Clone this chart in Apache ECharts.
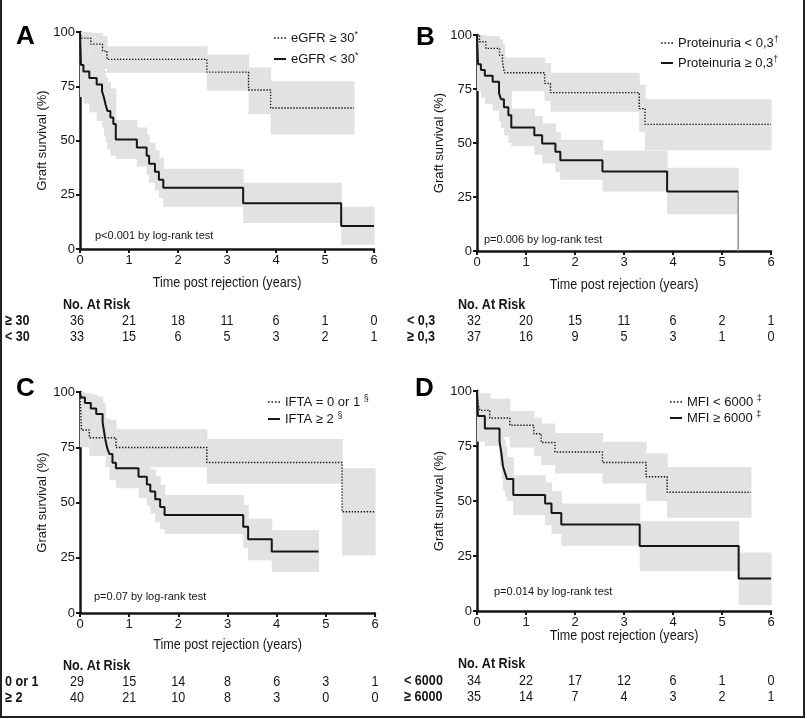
<!DOCTYPE html>
<html><head><meta charset="utf-8">
<script src="https://cdn.jsdelivr.net/npm/echarts@6/dist/echarts.min.js"></script>
<style>html,body{margin:0;padding:0;background:#fff}#c{width:807px;height:719px}</style>
</head><body><div id="c"></div>
<script>
// ---------- shared ----------
const xTicks = [0, 1, 2, 3, 4, 5, 6];
const yTicks = [0, 25, 50, 75, 100];

// ---------- Panel A : eGFR ----------
const A_dot_t = [0, 0.03, 0.22, 0.46, 0.55, 2.59, 3.44, 3.89];
const A_dot_s = [100, 97.2, 94.4, 91.2, 87.4, 81.5, 73.3, 65.0];
const A_dot_end = 5.59;
const A_dotB_t = [0, 0.22, 0.46, 0.55, 2.59, 3.44, 3.89];
const A_dotB_lo = [91, 86, 83, 81.2, 72.9, 62.2, 52.8];
const A_dotB_hi = [100, 99.5, 98, 93.4, 89.6, 83.6, 77.3];
const A_sol_t = [0, 0.02, 0.07, 0.19, 0.34, 0.45, 0.49, 0.52, 0.56, 0.62, 0.68, 0.73, 1.16, 1.36, 1.41, 1.53, 1.61, 1.70, 3.33, 5.33];
const A_sol_s = [100, 84.8, 81.8, 78.8, 75.8, 72.7, 69.7, 66.7, 63.6, 60.6, 57.6, 50.5, 46.8, 43.0, 39.3, 35.6, 31.9, 28.2, 21.1, 10.6];
const A_sol_end = 6.0;
const A_solB_t = [0, 0.07, 0.19, 0.34, 0.45, 0.49, 0.52, 0.56, 0.62, 0.73, 1.16, 1.36, 1.41, 1.53, 1.61, 1.70, 3.33, 5.33];
const A_solB_lo = [70, 67, 63, 59, 56, 52, 49, 46, 43, 41.5, 38, 34, 30.5, 27, 23.5, 19.5, 12, 2];
const A_solB_hi = [95, 92, 90, 88, 85, 82, 79, 77, 74, 59.5, 56, 52.5, 49, 45.5, 42, 37, 30.5, 19.5];
const A_risk1 = [36, 21, 18, 11, 6, 1, 0];
const A_risk2 = [33, 15, 6, 5, 3, 2, 1];

// ---------- Panel B : Proteinuria ----------
const B_dot_t = [0, 0.05, 0.18, 0.46, 0.52, 0.56, 1.38, 1.50, 3.31, 3.43];
const B_dot_s = [100, 96.9, 93.8, 90.6, 87.5, 82.5, 77.6, 73.3, 65.9, 58.6];
const B_dot_end = 6.0;
const B_dotB_t = [0, 0.18, 0.46, 0.52, 0.56, 1.38, 1.50, 3.31, 3.43];
const B_dotB_lo = [88, 85, 80, 77, 74, 69.5, 64.5, 55, 46.7];
const B_dotB_hi = [100, 99.5, 98, 96, 89.6, 87, 82.5, 77, 70.3];
const B_sol_t = [0, 0.02, 0.08, 0.16, 0.32, 0.45, 0.49, 0.55, 0.64, 0.70, 1.17, 1.33, 1.60, 1.70, 2.56, 3.88];
const B_sol_s = [100, 86.5, 83.8, 81.1, 78.4, 73.0, 70.3, 66.5, 62.9, 57.2, 53.6, 49.8, 46.0, 42.0, 36.8, 27.6];
const B_sol_end = 5.33;
const B_solB_t = [0, 0.08, 0.16, 0.32, 0.45, 0.49, 0.55, 0.64, 0.70, 1.17, 1.33, 1.60, 1.70, 2.56, 3.88];
const B_solB_lo = [74, 71, 68, 65, 60, 57, 53.5, 50, 48.5, 44.5, 40.5, 36.5, 33, 27.5, 17];
const B_solB_hi = [96, 93, 91, 89, 85, 82, 79, 76, 66, 62.5, 59, 55, 51.5, 46.5, 38.5];
const B_drop_t = [5.33, 5.33];
const B_drop_s = [27.6, 0];
const B_risk1 = [32, 20, 15, 11, 6, 2, 1];
const B_risk2 = [37, 16, 9, 5, 3, 1, 0];

// ---------- Panel C : IFTA ----------
const C_dot_t = [0, 0.03, 0.19, 0.73, 2.58, 5.33];
const C_dot_s = [100, 82.8, 79.3, 74.9, 68.1, 45.8];
const C_dot_end = 6.0;
const C_dotB_t = [0, 0.19, 0.73, 2.58, 5.33];
const C_dotB_lo = [75, 71, 66, 58.5, 26];
const C_dotB_hi = [95, 87.5, 83.2, 78.7, 65.5];
const C_sol_t = [0, 0.02, 0.10, 0.22, 0.33, 0.46, 0.49, 0.52, 0.56, 0.60, 0.66, 0.73, 1.19, 1.36, 1.43, 1.53, 1.63, 1.72, 3.32, 3.42, 3.90];
const C_sol_s = [100, 97.5, 95, 92.5, 90, 86.2, 82, 77.9, 74.1, 71.9, 68, 65.5, 61.7, 58.1, 55, 51.5, 48, 44.4, 39, 33.4, 27.8];
const C_sol_end = 4.85;
const C_solB_t = [0, 0.10, 0.22, 0.33, 0.46, 0.52, 0.60, 0.73, 1.19, 1.36, 1.43, 1.53, 1.63, 1.72, 3.32, 3.42, 3.90];
const C_solB_lo = [93, 88, 85, 81, 74, 66, 60, 56.4, 52, 48.5, 45, 41, 38, 35.7, 29.5, 23.9, 18.6];
const C_solB_hi = [100, 99.5, 99, 98, 95, 88, 85, 77.2, 72, 68.5, 65, 62, 58, 53.4, 49, 42.8, 37.5];
const C_risk1 = [29, 15, 14, 8, 6, 3, 1];
const C_risk2 = [40, 21, 10, 8, 3, 0, 0];

// ---------- Panel D : MFI ----------
const D_dot_t = [0, 0.02, 0.06, 0.26, 0.67, 1.16, 1.31, 1.59, 2.56, 3.45, 3.88];
const D_dot_s = [100, 94.1, 91.2, 87.7, 84.4, 80.6, 76.6, 72.3, 67.5, 61, 54];
const D_dot_end = 5.59;
const D_dotB_t = [0, 0.06, 0.26, 0.67, 1.16, 1.31, 1.59, 2.56, 3.45, 3.88];
const D_dotB_lo = [85, 82, 79, 74.3, 70.5, 66.3, 62.5, 58, 50, 42.4];
const D_dotB_hi = [100, 99, 96.5, 90.9, 88, 85.2, 80.9, 76.9, 71.6, 65.5];
const D_sol_t = [0, 0.02, 0.16, 0.46, 0.50, 0.53, 0.57, 0.61, 0.74, 1.39, 1.52, 1.72, 3.32, 5.34];
const D_sol_s = [100, 88.6, 82.9, 77.1, 71.4, 65.7, 62.9, 60, 52.7, 48.9, 44.5, 39.3, 29.5, 14.8];
const D_sol_end = 6.0;
const D_solB_t = [0, 0.16, 0.46, 0.50, 0.53, 0.57, 0.61, 0.74, 1.39, 1.52, 1.72, 3.32, 5.34];
const D_solB_lo = [77, 75, 66, 60, 55, 52, 50, 43.6, 39, 35, 29.7, 18.2, 2.7];
const D_solB_hi = [97, 93, 88, 83, 78, 75, 70, 61.7, 58.5, 54.5, 48.9, 40.8, 26.6];
const D_risk1 = [34, 22, 17, 12, 6, 1, 0];
const D_risk2 = [35, 14, 7, 4, 3, 2, 1];

// ---------- text ----------
const panelLetters = ['A', 'B', 'C', 'D'];
const pTexts = ['p<0.001 by log-rank test', 'p=0.006 by log-rank test', 'p=0.07 by log-rank test', 'p=0.014 by log-rank test'];
const legendNames = [
  ['eGFR ≥ 30*', 'eGFR < 30*'],
  ['Proteinuria < 0,3†', 'Proteinuria ≥ 0,3†'],
  ['IFTA = 0 or 1 §', 'IFTA ≥ 2 §'],
  ['MFI < 6000 ‡', 'MFI ≥ 6000 ‡']
];
const legendRich = {
  'eGFR ≥ 30*': 'eGFR ≥ 30{s|*}', 'eGFR < 30*': 'eGFR < 30{s|*}',
  'Proteinuria < 0,3†': 'Proteinuria < 0,3{s|†}', 'Proteinuria ≥ 0,3†': 'Proteinuria ≥ 0,3{s|†}',
  'IFTA = 0 or 1 §': 'IFTA = 0 or 1 {s|§}', 'IFTA ≥ 2 §': 'IFTA ≥ 2 {s|§}',
  'MFI < 6000 ‡': 'MFI < 6000 {s|‡}', 'MFI ≥ 6000 ‡': 'MFI ≥ 6000 {s|‡}'
};
const rowLabels = [['≥ 30', '< 30'], ['< 0,3', '≥ 0,3'], ['0 or 1', '≥ 2'], ['< 6000', '≥ 6000']];
const riskTitle = 'No. At Risk';
const xTitle = 'Time post rejection (years)';
const yTitle = 'Graft survival (%)';

// ---------- layout (pixels) ----------
const grids = [
  {left: 80, top: 32, width: 294, height: 217},
  {left: 477, top: 35, width: 294, height: 216},
  {left: 80, top: 392, width: 295, height: 221},
  {left: 477, top: 391, width: 294, height: 220}
];
const xTitleY = [283, 285, 645, 636];
const legendPos = [
  {left: 274, top: 30, itemGap: 5},
  {left: 661, top: 35, itemGap: 4},
  {left: 268, top: 394, itemGap: 1},
  {left: 670, top: 394, itemGap: 0}
];
const letterPos = [[16, 37], [416, 38], [16, 389], [415, 389]];
const pPos = [[95, 236], [484, 240], [94, 597], [494, 592]];
const tableY = [[305, 321, 337], [305, 321, 337], [666, 682, 698], [664, 681, 697]];
const titleX = [63, 458, 63, 458];
const rowX = [5, 407, 5, 404];

// ---------- helpers ----------
const SANS = "'Liberation Sans',Arial,Helvetica,sans-serif";
const INK = '#161616';
const BAND = '#e2e2e2';
const NARROW_SCALE = 0.84;
const ICON_SOLID = 'path://M0,0h12v2h-12z';
const ICON_DOT = 'path://M0,0h1.6v1.6h-1.6z M3.4,0h1.6v1.6h-1.6z M6.8,0h1.6v1.6h-1.6z M10.2,0h1.6v1.6h-1.6z';

function steps(T, S, end) {
  const d = T.map((t, i) => [t, S[i]]);
  d.push([end, S[S.length - 1]]);
  return d;
}
function bands(T, lo, hi, end) {
  return T.map((t, i) => [t, i < T.length - 1 ? T[i + 1] : end, lo[i], hi[i]]);
}
function renderBand(params, api) {
  const p0 = api.coord([api.value(0), api.value(3)]);
  const p1 = api.coord([api.value(1), api.value(2)]);
  return {
    type: 'rect',
    shape: {x: p0[0], y: p0[1], width: p1[0] - p0[0] + 0.6, height: p1[1] - p0[1]},
    style: {fill: BAND}
  };
}
function bandSeries(g, data) {
  return {type: 'custom', xAxisIndex: g, yAxisIndex: g, renderItem: renderBand, data: data,
    encode: {x: [0, 1], y: [2, 3]}, z: 1, silent: true};
}
function lineSeries(g, name, data, dotted) {
  return {type: 'line', name: name, xAxisIndex: g, yAxisIndex: g, data: data, step: 'end',
    symbol: 'none', showSymbol: false, z: 3, silent: true,
    lineStyle: {color: INK, width: dotted ? 1.4 : 2, type: dotted ? [1.4, 1.6] : 'solid'},
    itemStyle: {color: INK}};
}

const panels = [
  {dot: steps(A_dot_t, A_dot_s, A_dot_end), dotB: bands(A_dotB_t, A_dotB_lo, A_dotB_hi, A_dot_end),
   sol: steps(A_sol_t, A_sol_s, A_sol_end), solB: bands(A_solB_t, A_solB_lo, A_solB_hi, A_sol_end)},
  {dot: steps(B_dot_t, B_dot_s, B_dot_end), dotB: bands(B_dotB_t, B_dotB_lo, B_dotB_hi, B_dot_end),
   sol: steps(B_sol_t, B_sol_s, B_sol_end), solB: bands(B_solB_t, B_solB_lo, B_solB_hi, B_sol_end)},
  {dot: steps(C_dot_t, C_dot_s, C_dot_end), dotB: bands(C_dotB_t, C_dotB_lo, C_dotB_hi, C_dot_end),
   sol: steps(C_sol_t, C_sol_s, C_sol_end), solB: bands(C_solB_t, C_solB_lo, C_solB_hi, C_sol_end)},
  {dot: steps(D_dot_t, D_dot_s, D_dot_end), dotB: bands(D_dotB_t, D_dotB_lo, D_dotB_hi, D_dot_end),
   sol: steps(D_sol_t, D_sol_s, D_sol_end), solB: bands(D_solB_t, D_solB_lo, D_solB_hi, D_sol_end)}
];
const risks = [[A_risk1, A_risk2], [B_risk1, B_risk2], [C_risk1, C_risk2], [D_risk1, D_risk2]];

const xAxes = [], yAxes = [], series = [], legends = [];
grids.forEach((gr, g) => {
  xAxes.push({type: 'value', gridIndex: g, min: xTicks[0], max: xTicks[xTicks.length - 1], interval: 1,
    axisLine: {onZero: false, lineStyle: {color: INK, width: 2.5}},
    axisTick: {length: 4, lineStyle: {color: INK, width: 2}},
    axisLabel: {color: INK, fontSize: 13, margin: 5, fontFamily: SANS},
    splitLine: {show: false}});
  yAxes.push({type: 'value', gridIndex: g, min: yTicks[0], max: yTicks[yTicks.length - 1], interval: 25,
    name: yTitle, nameLocation: 'middle', nameGap: 31,
    nameTextStyle: {fontFamily: SANS, fontSize: 13, color: INK},
    axisLine: {onZero: false, lineStyle: {color: INK, width: 2.5}},
    axisTick: {length: 4, lineStyle: {color: INK, width: 2}},
    axisLabel: {color: INK, fontSize: 13, margin: 5, fontFamily: SANS},
    splitLine: {show: false}});
  const p = panels[g];
  series.push(bandSeries(g, p.dotB));
  series.push(bandSeries(g, p.solB));
  series.push(lineSeries(g, legendNames[g][0], p.dot, true));
  series.push(lineSeries(g, legendNames[g][1], p.sol, false));
  legends.push({
    data: [{name: legendNames[g][0], icon: ICON_DOT}, {name: legendNames[g][1], icon: ICON_SOLID}],
    orient: 'vertical', left: legendPos[g].left, top: legendPos[g].top, padding: 0,
    itemGap: legendPos[g].itemGap, itemWidth: 12, itemHeight: 2, selectedMode: false,
    formatter: (n) => legendRich[n],
    textStyle: {fontFamily: SANS, fontSize: 13, color: INK, lineHeight: 16,
      rich: {s: {fontFamily: SANS, fontSize: 9, lineHeight: 9, verticalAlign: 'top', color: INK}}}});
});
// grey final drop of panel B
series.push({type: 'line', xAxisIndex: 1, yAxisIndex: 1, data: B_drop_t.map((t, i) => [t, B_drop_s[i]]),
  symbol: 'none', z: 2, silent: true, lineStyle: {color: '#9a9a9a', width: 1.6}});

const chart = echarts.init(document.getElementById('c'), null, {renderer: 'canvas'});
chart.setOption({
  animation: false,
  backgroundColor: '#fff',
  grid: grids.map(g => Object.assign({containLabel: false}, g)),
  xAxis: xAxes, yAxis: yAxes, series: series, legend: legends
});

// ---------- annotation text ----------
function narrowText(x, y, text, bold, size, align) {
  return {type: 'text', x: x, y: y, scaleX: NARROW_SCALE,
    style: {text: text, font: (bold ? 'bold ' : '') + size + 'px ' + SANS, fill: INK,
      align: align, verticalAlign: 'middle'}};
}
const gfx = [];
gfx.push({type: 'rect', shape: {x: 1, y: -5, width: 803, height: 722}, style: {fill: null, stroke: '#222', lineWidth: 2}, z: 10});
for (let g = 0; g < 4; g++) {
  const cx = chart.convertToPixel({gridIndex: g}, [(xTicks[0] + xTicks[xTicks.length - 1]) / 2, 0])[0];
  gfx.push(narrowText(cx, xTitleY[g], xTitle, false, 15, 'center'));
  gfx.push({type: 'text', x: letterPos[g][0], y: letterPos[g][1],
    style: {text: panelLetters[g], font: "bold 26px " + SANS, fill: '#000', align: 'left', verticalAlign: 'middle'}});
  gfx.push({type: 'text', x: pPos[g][0], y: pPos[g][1],
    style: {text: pTexts[g], font: "11px " + SANS, fill: INK, align: 'left', verticalAlign: 'middle'}});
  gfx.push(narrowText(titleX[g], tableY[g][0], riskTitle, true, 15, 'left'));
  for (let r = 0; r < 2; r++) {
    gfx.push(narrowText(rowX[g], tableY[g][r + 1], rowLabels[g][r], true, 15, 'left'));
    risks[g][r].forEach((v, i) => {
      const px = chart.convertToPixel({gridIndex: g}, [xTicks[i], 0])[0];
      gfx.push(narrowText(px - (i === 0 ? 3 : 0), tableY[g][r + 1], String(v), false, 15, 'center'));
    });
  }
}
chart.setOption({graphic: {elements: gfx}});
</script>
</body></html>
